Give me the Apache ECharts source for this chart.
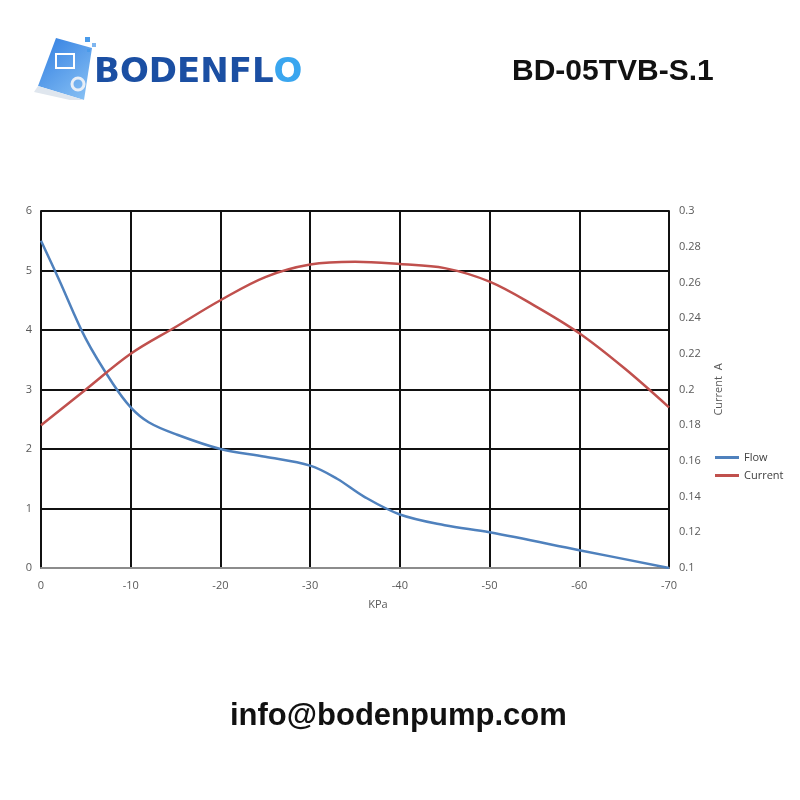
<!DOCTYPE html>
<html>
<head>
<meta charset="utf-8">
<script src="https://cdn.jsdelivr.net/npm/echarts@6/dist/echarts.min.js"></script>
<style>html,body{margin:0;padding:0;background:#fff}#c{width:800px;height:800px}</style>
</head>
<body>
<div id="c"></div>
<script>
// Data
const flowData = [[0,5.5],[-2,4.85],[-5,3.85],[-8,3.1],[-10,2.7],[-12,2.45],[-15,2.25],[-20,2.0],[-25,1.87],[-30,1.72],[-33,1.5],[-36,1.2],[-40,0.9],[-45,0.72],[-50,0.6],[-60,0.3],[-70,0]];
const currentData = [[0,0.18],[-5,0.2],[-10,0.22],[-15,0.235],[-20,0.25],[-25,0.263],[-30,0.27],[-35,0.2716],[-40,0.2703],[-45,0.268],[-50,0.2604],[-55,0.247],[-60,0.2315],[-65,0.212],[-70,0.19]];
const seriesNames = ['Flow','Current'];
const titleText = 'BD-05TVB-S.1';
const emailText = 'info@bodenpump.com';
const brandMain = 'BODENFL';
const brandEnd = 'O';

const chart = echarts.init(document.getElementById('c'));
const labelStyle = {color:'#595959', fontSize:11, fontFamily:'Open Sans'};
chart.setOption({
  animation:false,
  backgroundColor:'#fff',
  grid:{left:41, right:131, top:211, height:357},
  legend:{
    data:seriesNames, orient:'vertical', left:710, top:447,
    itemWidth:24, itemHeight:3, itemGap:7, icon:'rect',
    textStyle:{color:'#404040', fontSize:11, fontFamily:'Open Sans'}
  },
  xAxis:{
    type:'value', min:-70, max:0, interval:10, inverse:true,
    name:'KPa', nameLocation:'middle', nameGap:31,
    nameTextStyle:{color:'#595959', fontSize:11, fontFamily:'Open Sans', padding:[0,0,0,46]},
    axisLine:{show:true, lineStyle:{color:'#8c8c8c', width:2}},
    axisTick:{show:false},
    axisLabel:Object.assign({margin:12}, labelStyle),
    splitLine:{show:true, lineStyle:{color:'#111', width:2}}
  },
  yAxis:[{
    type:'value', min:0, max:6, interval:1,
    axisLine:{show:true, lineStyle:{color:'#111', width:2}},
    axisTick:{show:false},
    axisLabel:Object.assign({margin:9}, labelStyle),
    splitLine:{show:true, lineStyle:{color:'#111', width:2}}
  },{
    type:'value', min:0.1, max:0.3, interval:0.02, position:'right',
    name:'Current  A', nameLocation:'middle', nameGap:44, nameRotate:90,
    nameTextStyle:{color:'#595959', fontSize:11, fontFamily:'Open Sans'},
    axisLine:{show:true, lineStyle:{color:'#111', width:2}},
    axisTick:{show:false},
    axisLabel:Object.assign({margin:10, formatter:v=>String(+v.toFixed(2))}, labelStyle),
    splitLine:{show:false}
  }],
  series:[{
    name:seriesNames[0], type:'line', data:flowData, smooth:0.35, showSymbol:false,
    yAxisIndex:0, lineStyle:{color:'#4f81bd', width:2.5}, itemStyle:{color:'#4f81bd'}
  },{
    name:seriesNames[1], type:'line', data:currentData, smooth:0.35, showSymbol:false,
    yAxisIndex:1, lineStyle:{color:'#c0504d', width:2.5}, itemStyle:{color:'#c0504d'}
  }],
  graphic:[
    {type:'polygon', shape:{points:[[56,38],[92,48],[84,100],[38,86]]},
     style:{fill:new echarts.graphic.LinearGradient(0,0,1,1,[{offset:0,color:'#2f7de1'},{offset:1,color:'#8cc4f5'}])}},
    {type:'polygon', shape:{points:[[38,86],[84,100],[70,100],[34,92]]}, style:{fill:'#dfe6ee'}},
    {type:'rect', shape:{x:85,y:37,width:5,height:5}, style:{fill:'#4a9bea'}},
    {type:'rect', shape:{x:92,y:43,width:4,height:4}, style:{fill:'#7fb6ef'}},
    {type:'rect', shape:{x:87,y:49,width:3,height:3}, style:{fill:'#4a9bea'}},
    {type:'rect', shape:{x:56,y:54,width:18,height:14}, style:{fill:'none', stroke:'#fff', lineWidth:2}},
    {type:'circle', shape:{cx:78,cy:84,r:6}, style:{fill:'none', stroke:'#e8eef6', lineWidth:3}},
    {type:'text', left:94, top:56, style:{
      text:'{a|'+brandMain+'}{b|'+brandEnd+'}',
      rich:{a:{fill:'#1b4fa3', font:'bold 34px "DejaVu Sans"'}, b:{fill:'#3aa6ef', font:'bold 34px "DejaVu Sans"'}}
    }},
    {type:'text', left:512, top:57, style:{text:titleText, fill:'#111', font:'bold 30px "Liberation Sans"'}},
    {type:'text', left:230, top:701, style:{text:emailText, fill:'#111', font:'bold 31px "Liberation Sans"'}}
  ]
});
</script>
</body>
</html>
